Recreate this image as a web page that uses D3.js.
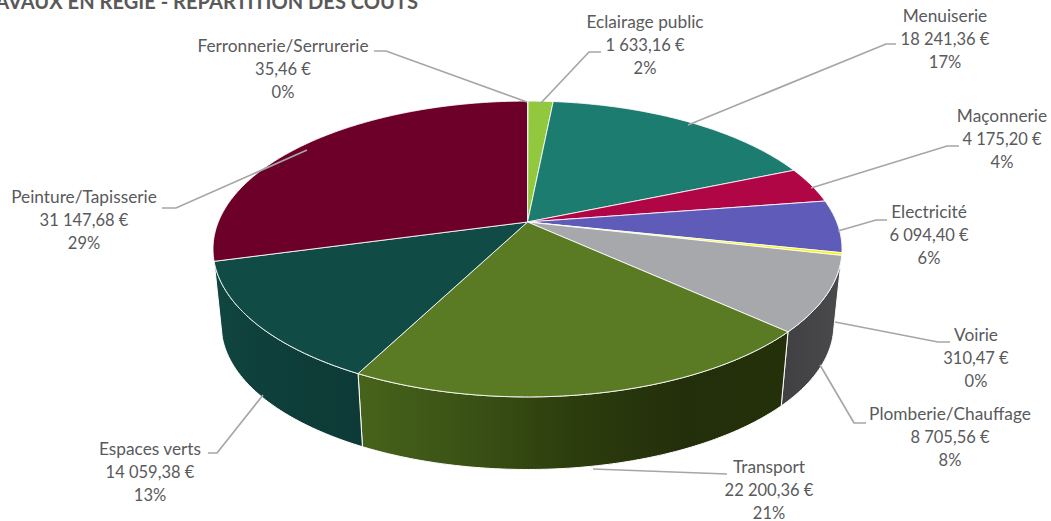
<!DOCTYPE html>
<html>
<head>
<meta charset="utf-8">
<script src="https://d3js.org/d3.v7.min.js"></script>
<style>
html, body { margin: 0; padding: 0; background: #fff; overflow: hidden; }
text { font-family: Lato, "Open Sans", sans-serif; }
</style>
</head>
<body>
<svg width="1051" height="521"></svg>
<script>
var categories = ["Ferronnerie/Serrurerie", "Eclairage public", "Menuiserie", "Maçonnerie", "Electricité", "Voirie", "Plomberie/Chauffage", "Transport", "Espaces verts", "Peinture/Tapisserie"];
var amounts = [35.46, 1633.16, 18241.36, 4175.20, 6094.40, 310.47, 8705.56, 22200.36, 14059.38, 31147.68];
var amountLabels = ["35,46 €", "1 633,16 €", "18 241,36 €", "4 175,20 €", "6 094,40 €", "310,47 €", "8 705,56 €", "22 200,36 €", "14 059,38 €", "31 147,68 €"];
var percentLabels = ["0%", "2%", "17%", "4%", "6%", "0%", "8%", "21%", "13%", "29%"];
var title = "TRAVAUX EN REGIE - REPARTITION DES COUTS";

var topColors = ["#d9d9d9", "#92c83e", "#1d7c70", "#b00645", "#5e5bb9", "#f6f600", "#a6a8ab", "#5a7b24", "#114b45", "#6c0028"];
// side colours, left to right across the slice
var sideColors = [
    ["#d9d9d9", "#d9d9d9"], ["#92c83e", "#92c83e"], ["#1d7c70", "#1d7c70"], ["#7d0433", "#7d0433"],
    ["#424080", "#424080"], ["#a8a800", "#a8a800"], ["#414143", "#4a4a4c"],
    ["#46631b", "#3b5215", "#2c3d0d", "#232f0b", "#243009"],
    ["#104540", "#0e3e39", "#0d3a36"], ["#4c001c", "#4c001c"]
];

// label box centre and first line, then leader points
var labelLayout = [
    {x: 283, y: 46, leader: [[374, 51], [386, 51], [527, 102]]},
    {x: 645, y: 22, leader: [[601, 52], [589, 52], [540, 104]]},
    {x: 945, y: 16, leader: [[896, 44], [886, 44], [688, 125]]},
    {x: 1002, y: 116, leader: [[959, 146], [947, 146], [811, 188]]},
    {x: 929, y: 212, leader: [[887, 220], [876, 220], [838, 231]]},
    {x: 976, y: 335, leader: [[950, 342], [938, 342], [835, 322]]},
    {x: 950, y: 414, leader: [[866, 423], [854, 423], [820, 365]]},
    {x: 769, y: 467, leader: [[727, 474], [593, 469]]},
    {x: 150, y: 449, leader: [[208, 453], [217, 453], [263, 395]]},
    {x: 84, y: 197, leader: [[162, 208], [176, 208], [307, 150]]}
];

var svg = d3.select("svg");
var defs = svg.append("defs");

var cx = 527.5;
var persp = 0.1824;

// the pie lies flat and is seen in perspective, so the circle is not a plain ellipse
function projectTop(a) {
    var d = 1 + persp * Math.cos(a);
    return [cx + 309.2 * Math.sin(a) / d, 222 - 143 * Math.cos(a) / d];
}
function projectBottom(a) {
    var d = 1 + persp * Math.cos(a);
    return [cx + 301.2 * Math.sin(a) / d, 298.5 - 139.8 * Math.cos(a) / d];
}

var pie = d3.pie().sort(null).value(function(d) { return d; });
var slices = pie(amounts);
var line = d3.line();

function sample(start, end, project) {
    var n = Math.max(2, Math.ceil((end - start) / 0.01));
    return d3.range(n + 1).map(function(i) { return project(start + (end - start) * i / n); });
}

var sideGroup = svg.append("g");
var topGroup = svg.append("g");

// sides first, only the part facing us (tangent points of the top outline)
var sideFrom = Math.PI - Math.acos(persp);
var sideTo = Math.PI + Math.acos(persp);
slices.forEach(function(s, i) {
    var start = Math.max(s.startAngle, sideFrom);
    var end = Math.min(s.endAngle, sideTo);
    if (end - start < 0.1) return;
    var xa = projectTop(start)[0], xb = projectTop(end)[0];
    var grad = defs.append("linearGradient")
        .attr("id", "side" + i)
        .attr("gradientUnits", "userSpaceOnUse")
        .attr("x1", Math.min(xa, xb)).attr("x2", Math.max(xa, xb))
        .attr("y1", 0).attr("y2", 0);
    sideColors[i].forEach(function(c, j) {
        grad.append("stop")
            .attr("offset", j / (sideColors[i].length - 1))
            .attr("stop-color", c);
    });
    var pts = sample(start, end, projectTop).concat(sample(start, end, projectBottom).reverse());
    sideGroup.append("path")
        .attr("d", line(pts) + "Z")
        .attr("fill", "url(#side" + i + ")")
        .attr("stroke", "#fff")
        .attr("stroke-width", 1);
});

slices.forEach(function(s, i) {
    var pts = [[cx, 222]].concat(sample(s.startAngle, s.endAngle, projectTop));
    topGroup.append("path")
        .attr("d", line(pts) + "Z")
        .attr("fill", topColors[i])
        .attr("stroke", "#fff")
        .attr("stroke-opacity", 0.85)
        .attr("stroke-width", 1);
});

var leaders = svg.append("g");
labelLayout.forEach(function(l) {
    leaders.append("path")
        .attr("d", line(l.leader))
        .attr("fill", "none")
        .attr("stroke", "#a6a6a6")
        .attr("stroke-width", 1.7);
});

var labels = svg.append("g")
    .attr("text-anchor", "middle")
    .attr("fill", "#595a5c");

categories.forEach(function(name, i) {
    var l = labelLayout[i];
    [name, amountLabels[i], percentLabels[i]].forEach(function(t, j) {
        labels.append("text")
            .attr("x", l.x)
            .attr("y", l.y + j * 23)
            .attr("dy", "0.35em")
            .attr("font-size", j == 0 ? 17.3 : 16.5)
            .text(t);
    });
});

svg.append("text")
    .attr("x", 418)
    .attr("y", 9)
    .attr("text-anchor", "end")
    .attr("font-size", 20.1)
    .attr("font-weight", 700)
    .attr("fill", "#595959")
    .text(title);
</script>
</body>
</html>
